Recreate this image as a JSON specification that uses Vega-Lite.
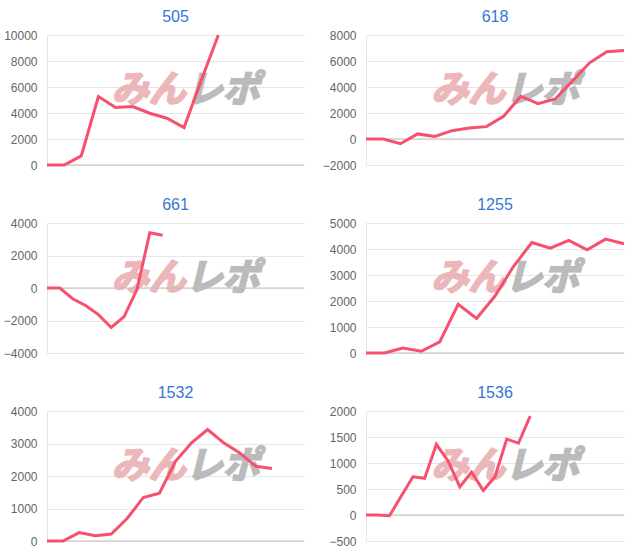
{
  "$schema": "https://vega.github.io/schema/vega-lite/v6.json",
  "padding": {"left": 3, "top": 9, "right": 5, "bottom": 5},
  "background": "white",
  "config": {
    "view": {"stroke": null},
    "font": "Liberation Sans",
    "title": {"font": "Liberation Sans", "fontSize": 16, "fontWeight": "normal", "color": "#3478d4", "offset": 4, "anchor": "middle"},
    "axisY": {"labelFont": "Liberation Sans", "labelFontSize": 12, "labelColor": "#666666", "ticks": false, "labelPadding": 10, "grid": true, "gridColor": "#e6e6e6", "domainColor": "#e6e6e6", "format": "d"}
  },
  "datasets": {
    "d": [
      {"c": "505", "i": 0, "v": 0}, {"c": "505", "i": 1, "v": 0}, {"c": "505", "i": 2, "v": 700}, {"c": "505", "i": 3, "v": 5270}, {"c": "505", "i": 4, "v": 4420}, {"c": "505", "i": 5, "v": 4500}, {"c": "505", "i": 6, "v": 3980}, {"c": "505", "i": 7, "v": 3600}, {"c": "505", "i": 8, "v": 2880}, {"c": "505", "i": 9, "v": 6500}, {"c": "505", "i": 10, "v": 10000},
      {"c": "618", "i": 0, "v": 0}, {"c": "618", "i": 1, "v": 0}, {"c": "618", "i": 2, "v": -360}, {"c": "618", "i": 3, "v": 390}, {"c": "618", "i": 4, "v": 200}, {"c": "618", "i": 5, "v": 640}, {"c": "618", "i": 6, "v": 850}, {"c": "618", "i": 7, "v": 950}, {"c": "618", "i": 8, "v": 1750}, {"c": "618", "i": 9, "v": 3290}, {"c": "618", "i": 10, "v": 2720}, {"c": "618", "i": 11, "v": 3080}, {"c": "618", "i": 12, "v": 4450}, {"c": "618", "i": 13, "v": 5860}, {"c": "618", "i": 14, "v": 6710}, {"c": "618", "i": 15, "v": 6810},
      {"c": "661", "i": 0, "v": 0}, {"c": "661", "i": 1, "v": 0}, {"c": "661", "i": 2, "v": -660}, {"c": "661", "i": 3, "v": -1080}, {"c": "661", "i": 4, "v": -1640}, {"c": "661", "i": 5, "v": -2430}, {"c": "661", "i": 6, "v": -1760}, {"c": "661", "i": 7, "v": -100}, {"c": "661", "i": 8, "v": 3400}, {"c": "661", "i": 9, "v": 3250},
      {"c": "1255", "i": 0, "v": 0}, {"c": "1255", "i": 1, "v": 0}, {"c": "1255", "i": 2, "v": 190}, {"c": "1255", "i": 3, "v": 65}, {"c": "1255", "i": 4, "v": 425}, {"c": "1255", "i": 5, "v": 1870}, {"c": "1255", "i": 6, "v": 1330}, {"c": "1255", "i": 7, "v": 2190}, {"c": "1255", "i": 8, "v": 3325}, {"c": "1255", "i": 9, "v": 4250}, {"c": "1255", "i": 10, "v": 4030}, {"c": "1255", "i": 11, "v": 4330}, {"c": "1255", "i": 12, "v": 3970}, {"c": "1255", "i": 13, "v": 4380}, {"c": "1255", "i": 14, "v": 4200},
      {"c": "1532", "i": 0, "v": 0}, {"c": "1532", "i": 1, "v": 0}, {"c": "1532", "i": 2, "v": 260}, {"c": "1532", "i": 3, "v": 165}, {"c": "1532", "i": 4, "v": 215}, {"c": "1532", "i": 5, "v": 700}, {"c": "1532", "i": 6, "v": 1340}, {"c": "1532", "i": 7, "v": 1470}, {"c": "1532", "i": 8, "v": 2450}, {"c": "1532", "i": 9, "v": 3020}, {"c": "1532", "i": 10, "v": 3430}, {"c": "1532", "i": 11, "v": 3020}, {"c": "1532", "i": 12, "v": 2710}, {"c": "1532", "i": 13, "v": 2300}, {"c": "1532", "i": 14, "v": 2230},
      {"c": "1536", "i": 0, "v": 0}, {"c": "1536", "i": 1, "v": 0}, {"c": "1536", "i": 2, "v": -15}, {"c": "1536", "i": 3, "v": 360}, {"c": "1536", "i": 4, "v": 735}, {"c": "1536", "i": 5, "v": 705}, {"c": "1536", "i": 6, "v": 1360}, {"c": "1536", "i": 7, "v": 1040}, {"c": "1536", "i": 8, "v": 540}, {"c": "1536", "i": 9, "v": 825}, {"c": "1536", "i": 10, "v": 470}, {"c": "1536", "i": 11, "v": 735}, {"c": "1536", "i": 12, "v": 1460}, {"c": "1536", "i": 13, "v": 1380}, {"c": "1536", "i": 14, "v": 1900}
    ]
  },
  "columns": 2,
  "bounds": "flush",
  "spacing": {"row": 58, "column": 62},
  "concat": [
    {
      "title": "505", "width": 257, "height": 130,
      "layer": [
        {"data": {"values": [{"t": "みん"}]}, "mark": {"type": "text", "align": "right", "baseline": "middle", "font": "Noto Sans CJK JP", "fontSize": 37, "fontWeight": "bold", "fontStyle": "italic", "color": "#ebb0b2", "stroke": "#ebb0b2", "strokeWidth": 2, "opacity": 0.9},
         "encoding": {"x": {"datum": 8.1, "type": "quantitative", "axis": null, "scale": {"domain": [0, 15], "nice": false}}, "y": {"datum": 5700, "type": "quantitative", "title": null, "axis": {"grid": true, "values": [0, 2000, 4000, 6000, 8000, 10000]}, "scale": {"domain": [0, 10000], "nice": false}}, "text": {"field": "t"}}},
        {"data": {"values": [{"t": "レポ"}]}, "mark": {"type": "text", "align": "left", "baseline": "middle", "font": "Noto Sans CJK JP", "fontSize": 37, "fontWeight": "bold", "fontStyle": "italic", "color": "#b4b4b4", "stroke": "#b4b4b4", "strokeWidth": 2, "opacity": 0.9},
         "encoding": {"x": {"datum": 8.1, "type": "quantitative", "axis": null, "scale": {"domain": [0, 15], "nice": false}}, "y": {"datum": 5700, "type": "quantitative", "title": null, "axis": {"grid": true, "values": [0, 2000, 4000, 6000, 8000, 10000]}, "scale": {"domain": [0, 10000], "nice": false}}, "text": {"field": "t"}}},
        {"data": {"values": [{}]}, "mark": {"type": "rule", "color": "#bfbfbf", "strokeWidth": 1},
         "encoding": {"y": {"datum": 0, "type": "quantitative", "title": null, "axis": {"grid": true, "values": [0, 2000, 4000, 6000, 8000, 10000]}, "scale": {"domain": [0, 10000], "nice": false}}}},
        {"data": {"name": "d"}, "transform": [{"filter": "datum.c == '505'"}], "mark": {"type": "line", "color": "#f7506e", "strokeWidth": 3},
         "encoding": {"x": {"field": "i", "type": "quantitative", "axis": null, "scale": {"domain": [0, 15], "nice": false}}, "y": {"field": "v", "type": "quantitative", "title": null, "axis": {"grid": true, "values": [0, 2000, 4000, 6000, 8000, 10000]}, "scale": {"domain": [0, 10000], "nice": false}}}}
      ]
    },
    {
      "title": "618", "width": 258, "height": 130,
      "layer": [
        {"data": {"values": [{"t": "みん"}]}, "mark": {"type": "text", "align": "right", "baseline": "middle", "font": "Noto Sans CJK JP", "fontSize": 37, "fontWeight": "bold", "fontStyle": "italic", "color": "#ebb0b2", "stroke": "#ebb0b2", "strokeWidth": 2, "opacity": 0.9},
         "encoding": {"x": {"datum": 8.1, "type": "quantitative", "axis": null, "scale": {"domain": [0, 15], "nice": false}}, "y": {"datum": 3700, "type": "quantitative", "title": null, "axis": {"grid": true, "values": [-2000, 0, 2000, 4000, 6000, 8000]}, "scale": {"domain": [-2000, 8000], "nice": false}}, "text": {"field": "t"}}},
        {"data": {"values": [{"t": "レポ"}]}, "mark": {"type": "text", "align": "left", "baseline": "middle", "font": "Noto Sans CJK JP", "fontSize": 37, "fontWeight": "bold", "fontStyle": "italic", "color": "#b4b4b4", "stroke": "#b4b4b4", "strokeWidth": 2, "opacity": 0.9},
         "encoding": {"x": {"datum": 8.1, "type": "quantitative", "axis": null, "scale": {"domain": [0, 15], "nice": false}}, "y": {"datum": 3700, "type": "quantitative", "title": null, "axis": {"grid": true, "values": [-2000, 0, 2000, 4000, 6000, 8000]}, "scale": {"domain": [-2000, 8000], "nice": false}}, "text": {"field": "t"}}},
        {"data": {"values": [{}]}, "mark": {"type": "rule", "color": "#bfbfbf", "strokeWidth": 1},
         "encoding": {"y": {"datum": 0, "type": "quantitative", "title": null, "axis": {"grid": true, "values": [-2000, 0, 2000, 4000, 6000, 8000]}, "scale": {"domain": [-2000, 8000], "nice": false}}}},
        {"data": {"name": "d"}, "transform": [{"filter": "datum.c == '618'"}], "mark": {"type": "line", "color": "#f7506e", "strokeWidth": 3},
         "encoding": {"x": {"field": "i", "type": "quantitative", "axis": null, "scale": {"domain": [0, 15], "nice": false}}, "y": {"field": "v", "type": "quantitative", "title": null, "axis": {"grid": true, "values": [-2000, 0, 2000, 4000, 6000, 8000]}, "scale": {"domain": [-2000, 8000], "nice": false}}}}
      ]
    },
    {
      "title": "661", "width": 257, "height": 130,
      "layer": [
        {"data": {"values": [{"t": "みん"}]}, "mark": {"type": "text", "align": "right", "baseline": "middle", "font": "Noto Sans CJK JP", "fontSize": 37, "fontWeight": "bold", "fontStyle": "italic", "color": "#ebb0b2", "stroke": "#ebb0b2", "strokeWidth": 2, "opacity": 0.9},
         "encoding": {"x": {"datum": 10.8, "type": "quantitative", "axis": null, "scale": {"domain": [0, 20], "nice": false}}, "y": {"datum": 560, "type": "quantitative", "title": null, "axis": {"grid": true, "values": [-4000, -2000, 0, 2000, 4000]}, "scale": {"domain": [-4000, 4000], "nice": false}}, "text": {"field": "t"}}},
        {"data": {"values": [{"t": "レポ"}]}, "mark": {"type": "text", "align": "left", "baseline": "middle", "font": "Noto Sans CJK JP", "fontSize": 37, "fontWeight": "bold", "fontStyle": "italic", "color": "#b4b4b4", "stroke": "#b4b4b4", "strokeWidth": 2, "opacity": 0.9},
         "encoding": {"x": {"datum": 10.8, "type": "quantitative", "axis": null, "scale": {"domain": [0, 20], "nice": false}}, "y": {"datum": 560, "type": "quantitative", "title": null, "axis": {"grid": true, "values": [-4000, -2000, 0, 2000, 4000]}, "scale": {"domain": [-4000, 4000], "nice": false}}, "text": {"field": "t"}}},
        {"data": {"values": [{}]}, "mark": {"type": "rule", "color": "#bfbfbf", "strokeWidth": 1},
         "encoding": {"y": {"datum": 0, "type": "quantitative", "title": null, "axis": {"grid": true, "values": [-4000, -2000, 0, 2000, 4000]}, "scale": {"domain": [-4000, 4000], "nice": false}}}},
        {"data": {"name": "d"}, "transform": [{"filter": "datum.c == '661'"}], "mark": {"type": "line", "color": "#f7506e", "strokeWidth": 3},
         "encoding": {"x": {"field": "i", "type": "quantitative", "axis": null, "scale": {"domain": [0, 20], "nice": false}}, "y": {"field": "v", "type": "quantitative", "title": null, "axis": {"grid": true, "values": [-4000, -2000, 0, 2000, 4000]}, "scale": {"domain": [-4000, 4000], "nice": false}}}}
      ]
    },
    {
      "title": "1255", "width": 258, "height": 130,
      "layer": [
        {"data": {"values": [{"t": "みん"}]}, "mark": {"type": "text", "align": "right", "baseline": "middle", "font": "Noto Sans CJK JP", "fontSize": 37, "fontWeight": "bold", "fontStyle": "italic", "color": "#ebb0b2", "stroke": "#ebb0b2", "strokeWidth": 2, "opacity": 0.9},
         "encoding": {"x": {"datum": 7.56, "type": "quantitative", "axis": null, "scale": {"domain": [0, 14], "nice": false}}, "y": {"datum": 2850, "type": "quantitative", "title": null, "axis": {"grid": true, "values": [0, 1000, 2000, 3000, 4000, 5000]}, "scale": {"domain": [0, 5000], "nice": false}}, "text": {"field": "t"}}},
        {"data": {"values": [{"t": "レポ"}]}, "mark": {"type": "text", "align": "left", "baseline": "middle", "font": "Noto Sans CJK JP", "fontSize": 37, "fontWeight": "bold", "fontStyle": "italic", "color": "#b4b4b4", "stroke": "#b4b4b4", "strokeWidth": 2, "opacity": 0.9},
         "encoding": {"x": {"datum": 7.56, "type": "quantitative", "axis": null, "scale": {"domain": [0, 14], "nice": false}}, "y": {"datum": 2850, "type": "quantitative", "title": null, "axis": {"grid": true, "values": [0, 1000, 2000, 3000, 4000, 5000]}, "scale": {"domain": [0, 5000], "nice": false}}, "text": {"field": "t"}}},
        {"data": {"values": [{}]}, "mark": {"type": "rule", "color": "#bfbfbf", "strokeWidth": 1},
         "encoding": {"y": {"datum": 0, "type": "quantitative", "title": null, "axis": {"grid": true, "values": [0, 1000, 2000, 3000, 4000, 5000]}, "scale": {"domain": [0, 5000], "nice": false}}}},
        {"data": {"name": "d"}, "transform": [{"filter": "datum.c == '1255'"}], "mark": {"type": "line", "color": "#f7506e", "strokeWidth": 3},
         "encoding": {"x": {"field": "i", "type": "quantitative", "axis": null, "scale": {"domain": [0, 14], "nice": false}}, "y": {"field": "v", "type": "quantitative", "title": null, "axis": {"grid": true, "values": [0, 1000, 2000, 3000, 4000, 5000]}, "scale": {"domain": [0, 5000], "nice": false}}}}
      ]
    },
    {
      "title": "1532", "width": 257, "height": 130,
      "layer": [
        {"data": {"values": [{"t": "みん"}]}, "mark": {"type": "text", "align": "right", "baseline": "middle", "font": "Noto Sans CJK JP", "fontSize": 37, "fontWeight": "bold", "fontStyle": "italic", "color": "#ebb0b2", "stroke": "#ebb0b2", "strokeWidth": 2, "opacity": 0.9},
         "encoding": {"x": {"datum": 8.64, "type": "quantitative", "axis": null, "scale": {"domain": [0, 16], "nice": false}}, "y": {"datum": 2280, "type": "quantitative", "title": null, "axis": {"grid": true, "values": [0, 1000, 2000, 3000, 4000]}, "scale": {"domain": [0, 4000], "nice": false}}, "text": {"field": "t"}}},
        {"data": {"values": [{"t": "レポ"}]}, "mark": {"type": "text", "align": "left", "baseline": "middle", "font": "Noto Sans CJK JP", "fontSize": 37, "fontWeight": "bold", "fontStyle": "italic", "color": "#b4b4b4", "stroke": "#b4b4b4", "strokeWidth": 2, "opacity": 0.9},
         "encoding": {"x": {"datum": 8.64, "type": "quantitative", "axis": null, "scale": {"domain": [0, 16], "nice": false}}, "y": {"datum": 2280, "type": "quantitative", "title": null, "axis": {"grid": true, "values": [0, 1000, 2000, 3000, 4000]}, "scale": {"domain": [0, 4000], "nice": false}}, "text": {"field": "t"}}},
        {"data": {"values": [{}]}, "mark": {"type": "rule", "color": "#bfbfbf", "strokeWidth": 1},
         "encoding": {"y": {"datum": 0, "type": "quantitative", "title": null, "axis": {"grid": true, "values": [0, 1000, 2000, 3000, 4000]}, "scale": {"domain": [0, 4000], "nice": false}}}},
        {"data": {"name": "d"}, "transform": [{"filter": "datum.c == '1532'"}], "mark": {"type": "line", "color": "#f7506e", "strokeWidth": 3},
         "encoding": {"x": {"field": "i", "type": "quantitative", "axis": null, "scale": {"domain": [0, 16], "nice": false}}, "y": {"field": "v", "type": "quantitative", "title": null, "axis": {"grid": true, "values": [0, 1000, 2000, 3000, 4000]}, "scale": {"domain": [0, 4000], "nice": false}}}}
      ]
    },
    {
      "title": "1536", "width": 258, "height": 130,
      "layer": [
        {"data": {"values": [{"t": "みん"}]}, "mark": {"type": "text", "align": "right", "baseline": "middle", "font": "Noto Sans CJK JP", "fontSize": 37, "fontWeight": "bold", "fontStyle": "italic", "color": "#ebb0b2", "stroke": "#ebb0b2", "strokeWidth": 2, "opacity": 0.9},
         "encoding": {"x": {"datum": 11.88, "type": "quantitative", "axis": null, "scale": {"domain": [0, 22], "nice": false}}, "y": {"datum": 925, "type": "quantitative", "title": null, "axis": {"grid": true, "values": [-500, 0, 500, 1000, 1500, 2000]}, "scale": {"domain": [-500, 2000], "nice": false}}, "text": {"field": "t"}}},
        {"data": {"values": [{"t": "レポ"}]}, "mark": {"type": "text", "align": "left", "baseline": "middle", "font": "Noto Sans CJK JP", "fontSize": 37, "fontWeight": "bold", "fontStyle": "italic", "color": "#b4b4b4", "stroke": "#b4b4b4", "strokeWidth": 2, "opacity": 0.9},
         "encoding": {"x": {"datum": 11.88, "type": "quantitative", "axis": null, "scale": {"domain": [0, 22], "nice": false}}, "y": {"datum": 925, "type": "quantitative", "title": null, "axis": {"grid": true, "values": [-500, 0, 500, 1000, 1500, 2000]}, "scale": {"domain": [-500, 2000], "nice": false}}, "text": {"field": "t"}}},
        {"data": {"values": [{}]}, "mark": {"type": "rule", "color": "#bfbfbf", "strokeWidth": 1},
         "encoding": {"y": {"datum": 0, "type": "quantitative", "title": null, "axis": {"grid": true, "values": [-500, 0, 500, 1000, 1500, 2000]}, "scale": {"domain": [-500, 2000], "nice": false}}}},
        {"data": {"name": "d"}, "transform": [{"filter": "datum.c == '1536'"}], "mark": {"type": "line", "color": "#f7506e", "strokeWidth": 3},
         "encoding": {"x": {"field": "i", "type": "quantitative", "axis": null, "scale": {"domain": [0, 22], "nice": false}}, "y": {"field": "v", "type": "quantitative", "title": null, "axis": {"grid": true, "values": [-500, 0, 500, 1000, 1500, 2000]}, "scale": {"domain": [-500, 2000], "nice": false}}}}
      ]
    }
  ]
}
